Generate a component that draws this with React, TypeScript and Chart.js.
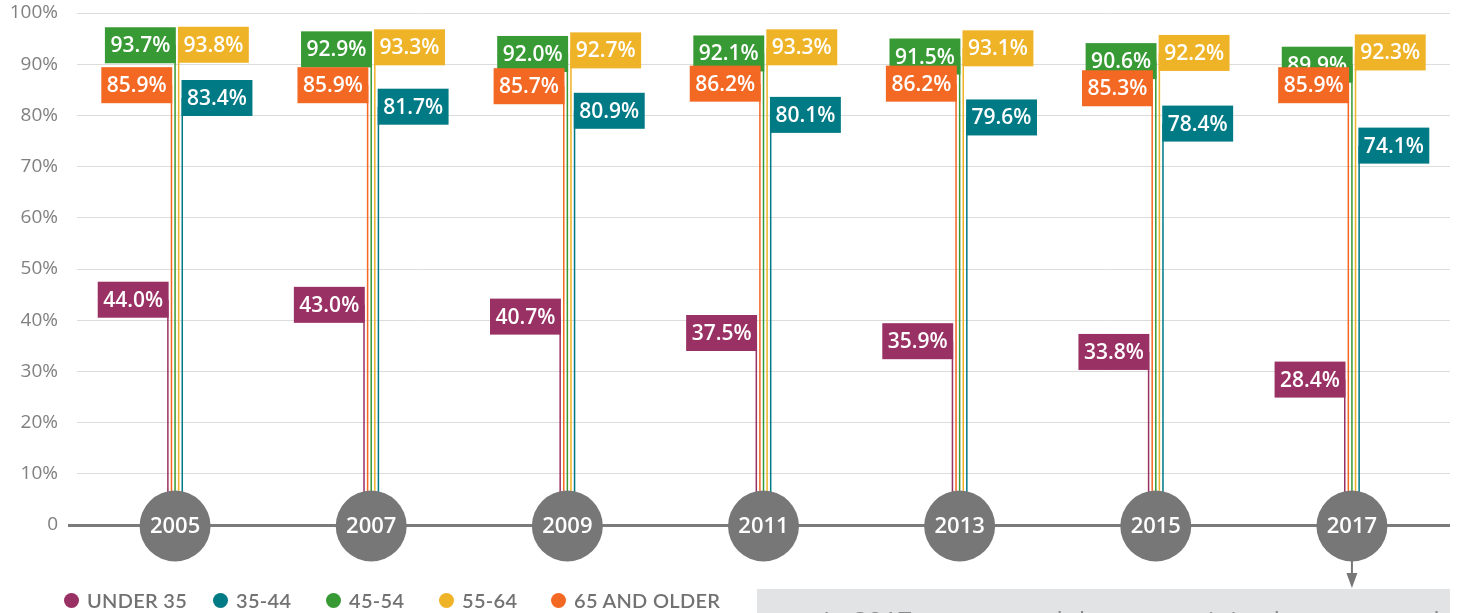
import React, { useEffect, useRef } from 'react';
import { Chart, registerables } from 'chart.js';

Chart.register(...registerables);

const years = ['2005', '2007', '2009', '2011', '2013', '2015', '2017'];
const under35 = [44.0, 43.0, 40.7, 37.5, 35.9, 33.8, 28.4];
const age35to44 = [83.4, 81.7, 80.9, 80.1, 79.6, 78.4, 74.1];
const age45to54 = [93.7, 92.9, 92.0, 92.1, 91.5, 90.6, 89.9];
const age55to64 = [93.8, 93.3, 92.7, 93.3, 93.1, 92.2, 92.3];
const age65plus = [85.9, 85.9, 85.7, 86.2, 86.2, 85.3, 85.9];
const yTickLabels = ['0', '10%', '20%', '30%', '40%', '50%', '60%', '70%', '80%', '90%', '100%'];
const legendNames = ['UNDER 35', '35-44', '45-54', '55-64', '65 AND OLDER'];
const noteText = 'In 2017, younger adults are attaining homeownership at lower rates';

const PURPLE = '#9a3164';
const TEAL = '#007a85';
const GREEN = '#389a34';
const YELLOW = '#efb327';
const ORANGE = '#f36823';
const legendColors = [PURPLE, TEAL, GREEN, YELLOW, ORANGE];
const legendColumns = '149px 113px 113px 112px auto';

const overlay = {
  id: 'overlay',
  afterDatasetsDraw(chart: any) {
    const ctx = chart.ctx;
    const xs = chart.scales.x;
    const ys = chart.scales.y;
    const baseY = ys.getPixelForValue(0) + 1;
    ctx.save();
    // year circles
    years.forEach((yr, i) => {
      const cx = xs.getPixelForValue(i);
      ctx.beginPath();
      ctx.arc(cx, baseY, 35.5, 0, Math.PI * 2);
      ctx.fillStyle = '#777777';
      ctx.fill();
      ctx.fillStyle = '#ffffff';
      ctx.font = '600 22px "Open Sans"';
      ctx.textAlign = 'center';
      ctx.textBaseline = 'middle';
      ctx.fillText(yr, cx, baseY + 1);
    });
    // arrow from last circle
    const ax = xs.getPixelForValue(years.length - 1);
    ctx.strokeStyle = '#777777';
    ctx.lineWidth = 2;
    ctx.beginPath();
    ctx.moveTo(ax, baseY + 35);
    ctx.lineTo(ax, 576);
    ctx.stroke();
    ctx.fillStyle = '#777777';
    ctx.beginPath();
    ctx.moveTo(ax - 5.5, 573);
    ctx.lineTo(ax + 5.5, 573);
    ctx.lineTo(ax, 588);
    ctx.closePath();
    ctx.fill();
    // value labels
    const order = [0, 4, 3, 2, 1];
    ctx.font = '600 21px "Open Sans"';
    order.forEach((di) => {
      const ds = chart.data.datasets[di];
      const meta = chart.getDatasetMeta(di);
      meta.data.forEach((bar: any, i: number) => {
        const txt = ds.data[i].toFixed(1) + '%';
        const w = ctx.measureText(txt).width + 11;
        const h = 36;
        const left = ds.labelSide === 'left' ? bar.x + 0.75 - w : bar.x - 0.75;
        const top = bar.y - h / 2;
        ctx.fillStyle = ds.backgroundColor;
        ctx.fillRect(left, top, w, h);
        ctx.fillStyle = '#ffffff';
        ctx.textAlign = 'center';
        ctx.textBaseline = 'middle';
        ctx.fillText(txt, left + w / 2, top + h / 2 + 1);
      });
    });
    ctx.restore();
  },
};

export default function App() {
  const ref = useRef<HTMLCanvasElement>(null);
  useEffect(() => {
    if (!ref.current) return;
    const mk = (label: string, data: number[], color: string, side: string) => ({
      label,
      data,
      backgroundColor: color,
      borderWidth: 0,
      labelSide: side,
      categoryPercentage: 0.0917,
      barPercentage: 0.42,
    });
    const chart = new Chart(ref.current, {
      type: 'bar',
      data: {
        labels: years,
        datasets: [
          mk('UNDER 35', under35, PURPLE, 'left'),
          mk('65 AND OLDER', age65plus, ORANGE, 'left'),
          mk('45-54', age45to54, GREEN, 'left'),
          mk('55-64', age55to64, YELLOW, 'right'),
          mk('35-44', age35to44, TEAL, 'right'),
        ] as any,
      },
      options: {
        animation: false,
        responsive: false,
        devicePixelRatio: 1,
        layout: { padding: { top: 13, right: 8, left: 0, bottom: 0 } },
        plugins: { legend: { display: false }, tooltip: { enabled: false } },
        scales: {
          x: {
            grid: { display: false },
            border: { display: false },
            ticks: { display: false },
            afterFit: (s: any) => {
              s.height = 88;
            },
          },
          y: {
            min: 0,
            max: 100,
            ticks: {
              stepSize: 10,
              callback: (_v: any, i: number) => yTickLabels[i],
              color: '#808080',
              font: { family: '"Open Sans"', size: 19 },
              padding: 10,
            },
            grid: {
              color: (c: any) => (c.tick && c.tick.value === 0 ? '#7b7b7b' : '#dcdcdc'),
              lineWidth: (c: any) => (c.tick && c.tick.value === 0 ? 3 : 1),
              tickColor: (c: any) => (c.tick && c.tick.value === 0 ? '#7b7b7b' : 'rgba(0,0,0,0)'),
              tickLength: 9,
              drawTicks: true,
            },
            border: { display: false },
            afterFit: (s: any) => {
              s.width = 77;
              s.paddingTop = 0;
              s.paddingBottom = 0;
            },
          },
        },
      } as any,
      plugins: [overlay],
    });
    return () => chart.destroy();
  }, []);

  return (
    <div style={{ position: 'fixed', left: 0, top: 0, width: 1458, height: 613, overflow: 'hidden', background: '#fff' }}>
      <canvas ref={ref} width={1458} height={613} style={{ position: 'absolute', left: 0, top: 0 }} />
      <div
        style={{
          position: 'absolute',
          left: 64,
          top: 590,
          display: 'grid',
          gridTemplateColumns: legendColumns,
          fontFamily: 'Lato, "Open Sans", sans-serif',
          fontWeight: 600,
          fontSize: 20,
          lineHeight: '20px',
          letterSpacing: '0.3px',
          color: '#727272',
          whiteSpace: 'nowrap',
        }}
      >
        {legendNames.map((n, i) => (
          <div key={n} style={{ display: 'flex', alignItems: 'center', gap: 8 }}>
            <span style={{ display: 'inline-block', width: 15, height: 15, borderRadius: '50%', background: legendColors[i] }} />
            <span>{n}</span>
          </div>
        ))}
      </div>
      <div
        style={{
          position: 'absolute',
          left: 757,
          top: 589,
          width: 693,
          height: 60,
          background: '#e2e3e4',
          overflow: 'hidden',
        }}
      >
        <div
          style={{
            position: 'absolute',
            left: 66,
            top: 18,
            fontFamily: '"Open Sans", sans-serif',
            fontSize: 26,
            lineHeight: '26px',
            color: '#8a8a8a',
            whiteSpace: 'nowrap',
          }}
        >
          {noteText}
        </div>
      </div>
    </div>
  );
}
